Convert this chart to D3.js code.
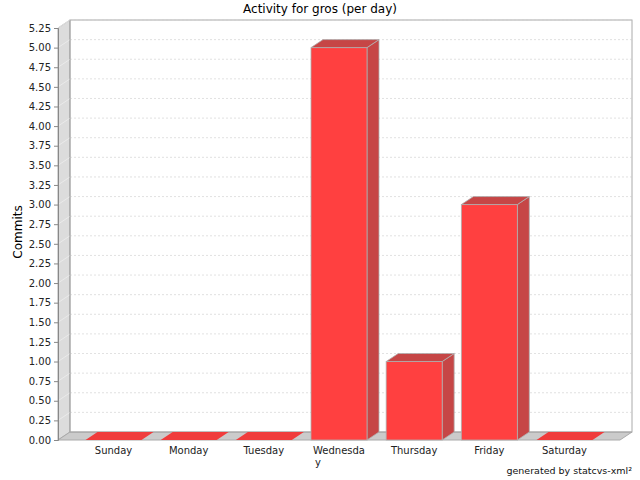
<!DOCTYPE html>
<html>
<head>
<meta charset="utf-8">
<script src="https://cdn.jsdelivr.net/npm/d3@7"></script>
<style>
  body { margin: 0; background: #fff; }
  text { font-family: "DejaVu Sans", sans-serif; }
</style>
</head>
<body>
<svg id="chart" width="640" height="480"></svg>
<script>
// data
const days = ["Sunday", "Monday", "Tuesday", "Wednesday", "Thursday", "Friday", "Saturday"];
const commits = [0, 0, 0, 5, 1, 3, 0];
const yTicks = d3.range(0, 22).map(i => i * 0.25);

const svg = d3.select("#chart");
const W = 640;
const plotL = 58, plotR = 620, plotT = 28, plotB = 440;
const dx = 12, dy = -8;   // 3d depth

const x = d3.scaleBand()
    .domain(days)
    .range([plotL, plotR])
    .paddingInner(0.255)
    .paddingOuter(0.366);

const y = d3.scaleLinear()
    .domain([0, 5.25])
    .range([plotB, plotT]);

// title
svg.append("text")
    .attr("x", W / 2).attr("y", 13)
    .attr("text-anchor", "middle")
    .attr("font-size", 12)
    .text("Activity for gros (per day)");

// walls
svg.append("polygon")
    .attr("points", [[plotL, plotT], [plotL + dx, plotT + dy], [plotL + dx, plotB + dy], [plotL, plotB]].join(" "))
    .attr("fill", "#dcdcdc").attr("stroke", "#aaa");
svg.append("polygon")
    .attr("points", [[plotL, plotB], [plotL + dx, plotB + dy], [plotR + dx, plotB + dy], [plotR, plotB]].join(" "))
    .attr("fill", "#cbcbcb").attr("stroke", "#aaa");
svg.append("rect")
    .attr("x", plotL + dx).attr("y", plotT + dy)
    .attr("width", plotR - plotL).attr("height", plotB - plotT)
    .attr("fill", "#fff").attr("stroke", "#aaa");

// gridlines on back wall + wall diagonals
const grid = svg.append("g");
yTicks.filter(d => d > 0).forEach(d => {
    grid.append("line")
        .attr("x1", plotL + dx).attr("x2", plotR + dx)
        .attr("y1", y(d) + dy).attr("y2", y(d) + dy)
        .attr("stroke", "#ccc").attr("stroke-dasharray", "2,2").attr("stroke-width", 0.6);
    grid.append("line")
        .attr("x1", plotL).attr("x2", plotL + dx)
        .attr("y1", y(d)).attr("y2", y(d) + dy)
        .attr("stroke", "#eee").attr("stroke-width", 0.8);
});
svg.append("line").attr("x1", plotL + dx).attr("x2", plotL + dx)
    .attr("y1", plotT + dy).attr("y2", plotB + dy).attr("stroke", "#aaa");
svg.append("line").attr("x1", plotL + dx).attr("x2", plotR + dx)
    .attr("y1", plotB + dy).attr("y2", plotB + dy).attr("stroke", "#aaa");

// bars
const front = "#ff4040", dark = "#c64646", edge = "#b0b0b0";
const bars = svg.append("g").selectAll("g")
    .data(days.map((d, i) => ({ day: d, v: commits[i] })))
    .join("g");

bars.each(function (d) {
    const g = d3.select(this);
    const x0 = x(d.day), x1 = x0 + x.bandwidth();
    const yt = y(d.v), yb = y(0);
    if (d.v > 0) {
        g.append("polygon")
            .attr("points", [[x1, yt], [x1 + dx, yt + dy], [x1 + dx, yb + dy], [x1, yb]].join(" "))
            .attr("fill", dark).attr("stroke", edge).attr("stroke-width", 0.8);
        g.append("rect")
            .attr("x", x0).attr("y", yt)
            .attr("width", x.bandwidth()).attr("height", yb - yt)
            .attr("fill", front).attr("stroke", edge).attr("stroke-width", 0.8);
    }
    g.append("polygon")
        .attr("points", [[x0, yt], [x0 + dx, yt + dy], [x1 + dx, yt + dy], [x1, yt]].join(" "))
        .attr("fill", d.v > 0 ? dark : "#f03c3c")
        .attr("stroke", d.v > 0 ? edge : "none").attr("stroke-width", 0.8);
});

// y axis
const yAxis = svg.append("g")
    .attr("transform", `translate(${plotL},0)`)
    .call(d3.axisLeft(y).tickValues(yTicks).tickFormat(d3.format(".2f")).tickSize(4).tickPadding(3));
yAxis.select(".domain").attr("stroke", "#888");
yAxis.selectAll(".tick line").attr("stroke", "#888");
yAxis.selectAll("text").attr("font-size", 10).attr("fill", "#222")
    .attr("font-family", "DejaVu Sans, sans-serif");

svg.append("text")
    .attr("transform", `translate(22,${(plotT + plotB) / 2 - 2}) rotate(-90)`)
    .attr("text-anchor", "middle")
    .attr("font-size", 12)
    .text("Commits");

// x labels (wrapped like the original)
const xl = svg.append("g");
days.forEach(d => {
    const cx = x(d) + x.bandwidth() / 2;
    const lines = d.length > 8 ? [d.slice(0, 8), d.slice(8)] : [d];
    lines.forEach((ln, i) => {
        xl.append("text")
            .attr("x", i === 0 ? cx : x(d) + 4)
            .attr("y", 454 + i * 12)
            .attr("text-anchor", i === 0 ? "middle" : "start")
            .attr("font-size", 10).attr("fill", "#222")
            .text(ln);
    });
});

// footer
svg.append("text")
    .attr("x", 632).attr("y", 474)
    .attr("text-anchor", "end")
    .attr("font-size", 9.5).attr("fill", "#111")
    .text("generated by statcvs-xml²");
</script>
</body>
</html>
